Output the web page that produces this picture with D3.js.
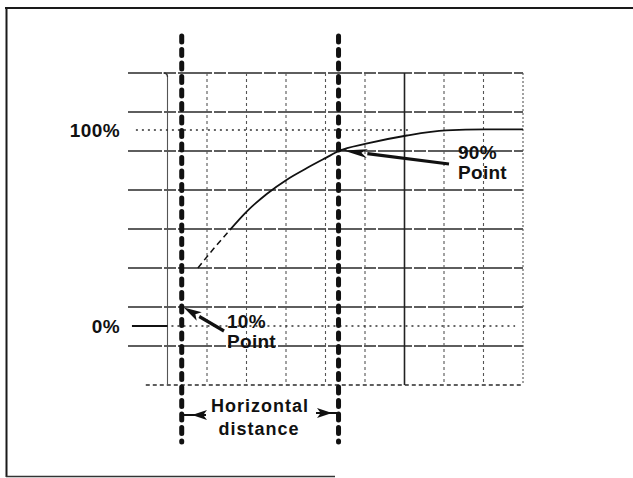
<!DOCTYPE html>
<html>
<head>
<meta charset="utf-8">
<script src="https://cdn.jsdelivr.net/npm/d3@7"></script>
<style>
  html, body { margin: 0; padding: 0; background: #fff; }
  svg { display: block; }
  text { font-family: "Liberation Sans", Arial, Helvetica, sans-serif; font-weight: bold; fill: #111; }
</style>
</head>
<body>
<svg id="chart" width="633" height="478"></svg>
<script>
// ---- data ----
const xDivisions = d3.range(0, 11);          // graticule columns (0..10)
const yDivisions = d3.range(0, 9);           // graticule rows (0..8)
const curveX   = [1.77, 2.15, 2.58, 3.01, 3.52, 4.03, 4.53, 5.01, 5.34, 6.03, 7.06, 8.05, 9.04, 10.0]; // divisions
const curvePct = [29.6, 39.0, 49.0, 58.5, 67.5, 74.8, 80.6, 85.8, 89.3, 93.0, 97.2, 99.8, 100.3, 100.3]; // percent
const levelLabels = ["0%", "100%"];
const levelValues = [0, 100];
const pointLabels = ["10%", "90%"];
const pointValues = [10, 90];
const cursorX = [1.36, 5.33];                // divisions where the cursors sit
const distanceLabel = ["Horizontal", "distance"];

// ---- scales ----
const svg = d3.select("#chart");
const x  = d3.scaleLinear().domain([0, 10]).range([128, 523]);
const yg = d3.scaleLinear().domain([0, 8]).range([385, 73]);
const yp = d3.scaleLinear().domain([0, 100]).range([326, 130]);

// ---- frame ----
const frame = svg.append("g").attr("fill", "none").attr("stroke", "#1a1a1a");
frame.append("line").attr("x1", 5).attr("x2", 633).attr("y1", 8).attr("y2", 8).attr("stroke-width", 2.2);
frame.append("line").attr("x1", 6.5).attr("x2", 6.5).attr("y1", 7).attr("y2", 477).attr("stroke-width", 2);
frame.append("line").attr("x1", 6).attr("x2", 335).attr("y1", 476.5).attr("y2", 476.5).attr("stroke-width", 1.4).attr("stroke", "#333");

// ---- graticule ----
const grid = svg.append("g").attr("fill", "none");
// horizontal rows
grid.selectAll("line.h").data(yDivisions).join("line")
  .attr("class", "h")
  .attr("x1", d => d === 0 ? x(0.45) : (d === 8 ? x(0) : x(0)))
  .attr("x2", x(10))
  .attr("y1", d => yg(d)).attr("y2", d => yg(d))
  .attr("stroke", "#2a2a2a").attr("stroke-width", 1.3)
  .attr("stroke-dasharray", d => d === 0 ? "4,3" : "34,2,12,2");
// vertical columns (column 0 is not drawn on the screen)
grid.selectAll("line.v").data(xDivisions.filter(d => d > 0)).join("line")
  .attr("class", "v")
  .attr("x1", d => x(d)).attr("x2", d => x(d))
  .attr("y1", d => d === 1 ? yg(8) + 4 : yg(8)).attr("y2", yg(0))
  .attr("stroke", d => d === 7 ? "#222" : "#555")
  .attr("stroke-width", d => d === 7 ? 1.6 : 1.1)
  .attr("stroke-dasharray", d => (d === 7 || d === 1) ? null : (d === 10 ? "2,2" : "3,3"));
// rounded corner at top-left of first column
grid.append("path")
  .attr("d", `M${x(1) - 4},${yg(8)} Q${x(1)},${yg(8)} ${x(1)},${yg(8) + 4}`)
  .attr("stroke", "#333").attr("stroke-width", 1.3);

// ---- 0% and 100% reference levels (dotted) ----
const lv = svg.append("g");
lv.append("line").attr("x1", x(0.2)).attr("x2", x(7.1)).attr("y1", yp(100)).attr("y2", yp(100))
  .attr("stroke", "#333").attr("stroke-width", 1.3).attr("stroke-dasharray", "2,4");
lv.append("line").attr("x1", x(1.1)).attr("x2", x(9.8)).attr("y1", yp(0)).attr("y2", yp(0))
  .attr("stroke", "#333").attr("stroke-width", 1.3).attr("stroke-dasharray", "2,4");
// baseline trace at 0%
lv.append("line").attr("x1", x(0.1)).attr("x2", x(1)).attr("y1", yp(0)).attr("y2", yp(0))
  .attr("stroke", "#111").attr("stroke-width", 2.2);
lv.selectAll("text").data(levelLabels).join("text")
  .attr("x", 120).attr("y", (d, i) => yp(levelValues[i]) + 7)
  .attr("text-anchor", "end").attr("font-size", 19).attr("letter-spacing", 0.4)
  .text(d => d);

// ---- waveform ----
const pts = curveX.map((v, i) => [x(v), yp(curvePct[i])]);
const line = d3.line().x(d => d[0]).y(d => d[1]).curve(d3.curveMonotoneX);
svg.append("path").attr("d", line(pts.slice(2)))
  .attr("fill", "none").attr("stroke", "#111").attr("stroke-width", 1.8);
svg.append("path").attr("d", line(pts.slice(0, 3)))
  .attr("fill", "none").attr("stroke", "#111").attr("stroke-width", 1.5).attr("stroke-dasharray", "6,4");

// ---- cursors (thick dashed verticals) ----
svg.selectAll("line.cursor").data(cursorX).join("line")
  .attr("class", "cursor")
  .attr("x1", d => x(d)).attr("x2", d => x(d))
  .attr("y1", 36).attr("y2", 442)
  .attr("stroke", "#111").attr("stroke-width", 5)
  .attr("stroke-linecap", "round").attr("stroke-dasharray", "6,7.5");

// ---- arrow helper ----
function arrow(g, x1, y1, x2, y2, w, headLen, headW) {
  const a = Math.atan2(y2 - y1, x2 - x1);
  const bx = x2 - headLen * Math.cos(a), by = y2 - headLen * Math.sin(a);
  g.append("line").attr("x1", x1).attr("y1", y1).attr("x2", bx).attr("y2", by)
    .attr("stroke", "#111").attr("stroke-width", w);
  const px = -Math.sin(a) * headW / 2, py = Math.cos(a) * headW / 2;
  g.append("path")
    .attr("d", `M${x2},${y2} L${bx + px},${by + py} L${bx + headLen * 0.25 * Math.cos(a)},${by + headLen * 0.25 * Math.sin(a)} L${bx - px},${by - py} Z`)
    .attr("fill", "#111");
}

// ---- point annotations ----
const ann = svg.append("g");
// 10% point
arrow(ann, 224, 331, x(cursorX[0]) + 2, yp(pointValues[0]) + 1, 3.2, 18, 10);
// 90% point
arrow(ann, 449, 164, x(cursorX[1]) + 5, yp(pointValues[1]) + 1, 3.2, 24, 9);
ann.append("line").attr("x1", x(cursorX[1])).attr("x2", x(cursorX[1]) + 8)
  .attr("y1", yp(pointValues[1])).attr("y2", yp(pointValues[1]) + 0.5).attr("stroke", "#111").attr("stroke-width", 1.5);

const annPos = [[227, 328], [458, 159]];
pointLabels.forEach((lab, i) => {
  const t = ann.append("text").attr("x", annPos[i][0]).attr("y", annPos[i][1])
    .attr("font-size", 19).attr("letter-spacing", 0.3);
  t.append("tspan").attr("x", annPos[i][0]).text(lab);
  t.append("tspan").attr("x", annPos[i][0]).attr("dy", 20).text("Point");
});

// ---- horizontal distance ----
const hd = svg.append("g");
hd.append("line").attr("x1", x(cursorX[0])).attr("x2", 206).attr("y1", 415).attr("y2", 415)
  .attr("stroke", "#111").attr("stroke-width", 2);
arrow(hd, 207, 415, 192, 415, 2, 15, 10);
hd.append("line").attr("x1", 317).attr("x2", x(cursorX[1])).attr("y1", 413).attr("y2", 413)
  .attr("stroke", "#111").attr("stroke-width", 2);
arrow(hd, 316, 413, 332, 413, 2, 15, 10);
hd.append("text").attr("x", 260).attr("y", 412).attr("text-anchor", "middle")
  .attr("font-size", 18).attr("letter-spacing", 1).text(distanceLabel[0]);
hd.append("text").attr("x", 259).attr("y", 435).attr("text-anchor", "middle")
  .attr("font-size", 18).attr("letter-spacing", 1).text(distanceLabel[1]);
</script>
</body>
</html>
